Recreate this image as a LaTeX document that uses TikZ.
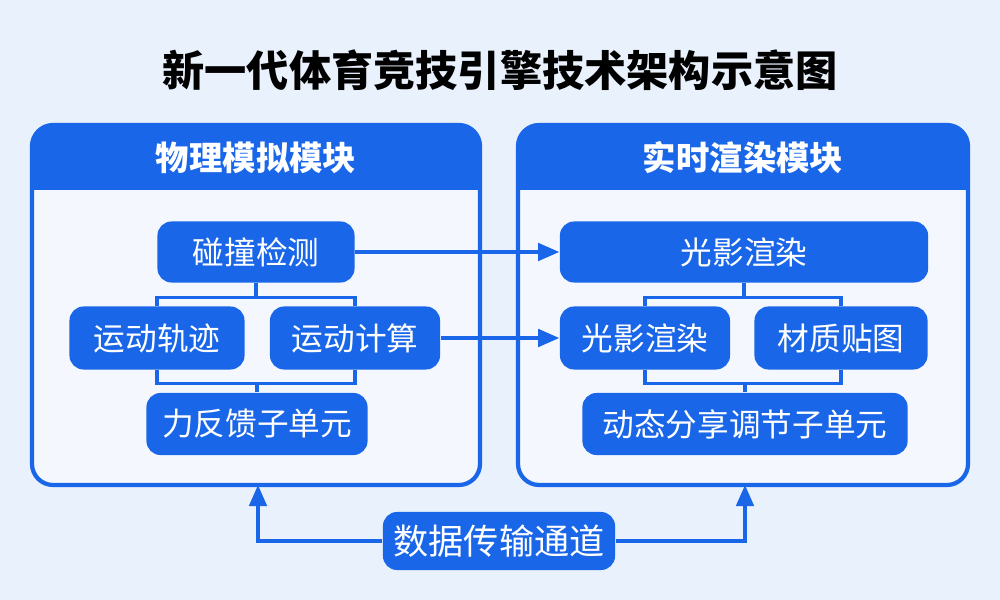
\documentclass[tikz,border=0pt]{standalone}
\usepackage{fontspec}
\setmainfont{Noto Sans CJK SC}
\usetikzlibrary{arrows.meta}
\definecolor{mainblue}{HTML}{1A66E8}
\definecolor{panelbg}{HTML}{F4F8FE}
\definecolor{pagebg}{HTML}{E9F1FC}
\begin{document}
\begin{tikzpicture}[x=0.01cm,y=-0.01cm,
    >={Triangle[length=6pt,width=5pt]},
    ]
% -------------------------------------------------
% Styles for panels, boxes and connectors
\tikzset{
  panel/.style={draw=mainblue, line width=1.2pt, rounded corners=6pt},
  head/.style={fill=mainblue},
  headtext/.style={text=white, font=\bfseries\fontsize{9.5}{11}\selectfont},
  box/.style={fill=mainblue, rounded corners=4pt, text=white,
    font=\fontsize{9}{11}\selectfont, inner sep=0pt},
  link/.style={draw=mainblue, line width=0.9pt},
  flow/.style={->, draw=mainblue, line width=0.9pt},
}
% -------------------------------------------------
% Background and title
\fill[pagebg] (0,0) rectangle (1000,600);
\node[font=\bfseries\fontsize{12}{14}\selectfont] (title) at (500,70) {新一代体育竞技引擎技术架构示意图};

% Panels (header clipped to the rounded frame)
\begin{scope}
  \clip[rounded corners=6pt] (32,125) rectangle (480,485);
  \fill[panelbg] (32,125) rectangle (480,485);
  \fill[head] (32,125) rectangle (480,190);
\end{scope}
\draw[panel] (32,125) rectangle (480,485);
\node[headtext] (lhead) at (256,158) {物理模拟模块};
\begin{scope}
  \clip[rounded corners=6pt] (518,125) rectangle (968,485);
  \fill[panelbg] (518,125) rectangle (968,485);
  \fill[head] (518,125) rectangle (968,190);
\end{scope}
\draw[panel] (518,125) rectangle (968,485);
\node[headtext] (rhead) at (743,158) {实时渲染模块};

% Left boxes
\node[box, minimum width=1.97cm, minimum height=0.61cm] (col) at (256,252) {碰撞检测};
\node[box, minimum width=1.75cm, minimum height=0.63cm] (traj) at (157,338) {运动轨迹};
\node[box, minimum width=1.70cm, minimum height=0.63cm] (calc) at (355,338) {运动计算};
\node[box, minimum width=2.21cm, minimum height=0.62cm] (force) at (257,424) {力反馈子单元};

% Right boxes
\node[box, minimum width=3.68cm, minimum height=0.61cm] (light) at (744,252) {光影渲染};
\node[box, minimum width=1.70cm, minimum height=0.63cm] (light2) at (645,338) {光影渲染};
\node[box, minimum width=1.73cm, minimum height=0.63cm] (mat) at (841,338) {材质贴图};
\node[box, minimum width=3.25cm, minimum height=0.62cm] (dyn) at (745,424) {动态分享调节子单元};

% Bottom channel
\node[box, minimum width=2.32cm, minimum height=0.58cm, font=\fontsize{10}{12}\selectfont] (chan) at (499,541) {数据传输通道};
\coordinate (lin) at (258,485);
\coordinate (rin) at (745,485);

% Tree links, left
\draw[link] (col.south) -- ++(0,14) -| (traj.north);
\draw[link] (col.south) ++(0,14) -| (calc.north);
\draw[link] (traj.south) -- ++(0,13) -| (force.north);
\draw[link] (calc.south) -- ++(0,13) -| (force.north);
% Tree links, right
\draw[link] (light.south) -- ++(0,14) -| (light2.north);
\draw[link] (light.south) ++(0,14) -| (mat.north);
\draw[link] (light2.south) -- ++(0,13) -| (dyn.north);
\draw[link] (mat.south) -- ++(0,13) -| (dyn.north);

% Cross arrows
\draw[flow] (col.east) -- (light.west);
\draw[flow] (calc.east) -- (light2.west);
\draw[flow] (chan.west) -| (lin);
\draw[flow] (chan.east) -| (rin);
% -------------------------------------------------
\end{tikzpicture}
\end{document}
